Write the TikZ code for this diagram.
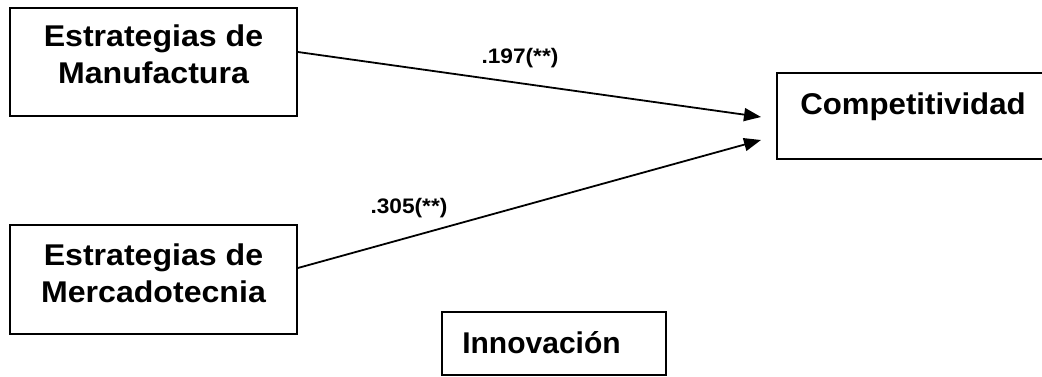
\documentclass[tikz,border=0pt]{standalone}
\usepackage{fontspec}
\usepackage{graphicx}
\setmainfont{Liberation Sans}
\usetikzlibrary{arrows.meta,calc}
\newcommand{\bigtxt}[2][1.07]{\scalebox{#1}[1]{\fontsize{30}{37}\selectfont\bfseries\begin{tabular}[t]{@{}c@{}}#2\end{tabular}}}
\newcommand{\lbltxt}[1]{\scalebox{1.08}[1]{\fontsize{21}{24}\selectfont\bfseries #1}}
\begin{document}
\begin{tikzpicture}[x=1pt,y=-1pt,
  box/.style={draw, line width=1.8pt, rectangle, inner sep=0pt},
  txt/.style={inner sep=0pt, anchor=base},
  conn/.style={line width=1.8pt, -{Triangle[length=17pt,width=13pt]}}]
\useasboundingbox (0,0) rectangle (1042,377);
\fill[white] (0,0) rectangle (1042,377);
% boxes
\node[box, minimum width=287pt, minimum height=108pt] (bm) at (153.5,62) {};
\node[box, minimum width=287pt, minimum height=109pt] (bk) at (153.5,279.5) {};
\node[box, minimum width=273pt, minimum height=86pt] (bc) at (913.5,116) {};
\node[box, minimum width=224pt, minimum height=63pt] (bi) at (554,343.5) {};
% texts
\node[txt] (tm) at (153.5,47) {\bigtxt{Estrategias de\\Manufactura}};
\node[txt] (tk) at (153.5,265) {\bigtxt{Estrategias de\\Mercadotecnia}};
\node[txt] (tc) at (913,115) {\bigtxt[1.04]{Competitividad}};
\node[txt] (ti) at (541.5,353) {\bigtxt[1.0]{Innovación}};
% labels
\node[txt] (l1) at (520,64) {\lbltxt{.197(**)}};
\node[txt] (l2) at (409,213) {\lbltxt{.305(**)}};
% connectors
\coordinate (e1) at (761,117);
\coordinate (e2) at (761,140);
\draw[conn] ($(bm.east)+(0,-10)$) -- (e1);
\draw[conn] ($(bk.east)+(0,-11.5)$) -- (e2);
\end{tikzpicture}
\end{document}
